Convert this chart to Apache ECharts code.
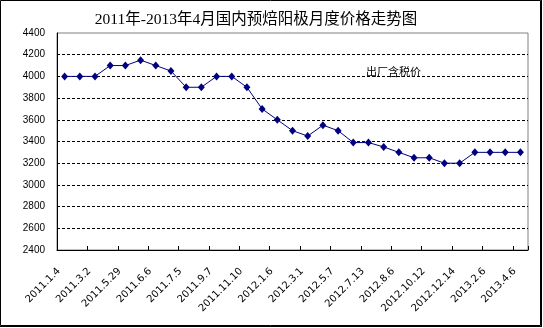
<!DOCTYPE html>
<html>
<head>
<meta charset="utf-8">
<script src="https://cdn.jsdelivr.net/npm/echarts@6/dist/echarts.min.js"></script>
<style>
  html, body { margin: 0; padding: 0; background: #fff; }
  #chart { width: 543px; height: 328px; }
</style>
</head>
<body>
<div id="chart"></div>
<script>
// Labelled survey dates (every other sampling point carries a label)
var tickLabels = [
  '2011.1.4', '2011.3.2', '2011.5.29', '2011.6.6', '2011.7.5', '2011.9.7',
  '2011.11.10', '2012.1.6', '2012.3.1', '2012.5.7', '2012.7.13', '2012.8.6',
  '2012.10.12', '2012.12.14', '2013.2.6', '2013.4.6'
];

// Ex-factory, tax-included price of prebaked anodes (yuan/t)
var prices = [
  4000, 4000, 4000, 4100, 4100, 4150, 4100, 4050, 3900, 3900,
  4000, 4000, 3900, 3700, 3600, 3500, 3450, 3550, 3500, 3390,
  3390, 3350, 3300, 3250, 3250, 3200, 3200, 3300, 3300, 3300, 3300
];

var seriesName = '出厂含税价';
var titleText = '2011年-2013年4月国内预焙阳极月度价格走势图';

// One category per sampling point; unlabelled points sit between labelled ones
var categories = prices.map(function (_, i) {
  return i % 2 === 0 ? tickLabels[i / 2] : ' ';
});

var yTicks = [2400, 2600, 2800, 3000, 3200, 3400, 3600, 3800, 4000, 4200, 4400];

// Split line colours: hide the bottom/top ones so the axis and frame show through
var splitColors = yTicks.map(function (v, i) {
  return (i === 0 || i === yTicks.length - 1) ? 'rgba(0,0,0,0)' : '#000';
});

var chart = echarts.init(document.getElementById('chart'), null, { renderer: 'canvas' });

chart.setOption({
  backgroundColor: '#fff',
  animation: false,
  title: {
    text: titleText,
    left: 251,
    textAlign: 'center',
    top: 7,
    textStyle: {
      fontFamily: '"Liberation Serif", "Noto Sans CJK SC", serif',
      fontSize: 15.5,
      fontWeight: 'normal',
      color: '#000'
    }
  },
  grid: {
    left: 57,
    right: 15,
    top: 33,
    bottom: 78,
    show: true,
    borderColor: '#808080',
    borderWidth: 1,
    backgroundColor: '#fff'
  },
  xAxis: {
    type: 'category',
    data: categories,
    boundaryGap: true,
    axisLine: { lineStyle: { color: '#000', width: 1 } },
    axisTick: { show: true, inside: true, length: 4, interval: 1, lineStyle: { color: '#000' } },
    axisLabel: {
      interval: 1,
      rotate: 45,
      margin: 14,
      padding: [0, 8, 0, 0],
      fontFamily: '"DejaVu Sans", "Liberation Sans", sans-serif',
      fontSize: 10,
      color: '#000'
    },
    splitLine: { show: false }
  },
  yAxis: {
    type: 'value',
    min: yTicks[0],
    max: yTicks[yTicks.length - 1],
    interval: 200,
    axisLine: { show: true, lineStyle: { color: '#000', width: 1 } },
    axisTick: { show: false },
    axisLabel: {
      margin: 12,
      formatter: function (v) { return String(v); },
      fontFamily: '"Liberation Sans", Arial, sans-serif',
      fontSize: 10,
      color: '#000'
    },
    splitLine: {
      show: true,
      lineStyle: { color: splitColors, type: [3, 2], width: 1 }
    }
  },
  series: [{
    name: seriesName,
    type: 'line',
    data: prices,
    symbol: 'diamond',
    symbolSize: [7, 8],
    lineStyle: { color: '#000080', width: 1 },
    itemStyle: { color: '#000080' }
  }],
  graphic: [
    {
      type: 'text',
      left: 366,
      top: 66,
      style: {
        text: seriesName,
        font: '11px "Noto Sans CJK SC", sans-serif',
        fill: '#000'
      },
      z: 10
    },
    {
      type: 'rect',
      shape: { x: 0.5, y: 0.5, width: 540, height: 325 },
      style: { fill: 'none', stroke: '#000', lineWidth: 1 },
      silent: true
    },
    {
      type: 'line',
      shape: { x1: 541.5, y1: 0, x2: 541.5, y2: 327 },
      style: { stroke: '#000', lineWidth: 1 },
      silent: true
    },
    {
      type: 'line',
      shape: { x1: 0, y1: 326.5, x2: 542, y2: 326.5 },
      style: { stroke: '#000', lineWidth: 1 },
      silent: true
    }
  ]
});
</script>
</body>
</html>
